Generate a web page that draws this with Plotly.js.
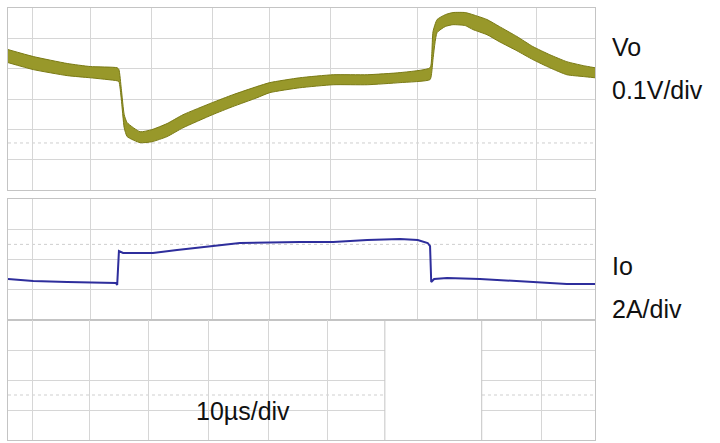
<!DOCTYPE html>
<html>
<head>
<meta charset="utf-8">
<script src="https://cdn.plot.ly/plotly-3.0.1.min.js"></script>
<style>html,body{margin:0;padding:0;background:#fff;}#chart{width:720px;height:443px;}</style>
</head>
<body>
<div id="chart"></div>
<script>
// ---- Vo (mV, relative to steady state), envelope of the ripple band ----
var voTime  = [0, 4.3, 10.1, 14.0, 18.6, 18.9, 19.3, 19.8, 20.3, 22.5, 24.5, 27.1, 29.8, 34.8, 38.3, 42.4, 44.6, 49.7, 55.4, 61.2, 66.8, 71.9, 72.2, 72.4, 73.1, 74.5, 75.8, 77.9, 79.2, 81.6, 83.7, 86.7, 89.4, 92.3, 95.2, 98.0, 100];
var voUpper = [63, 40, 17, 7, 3, -3, -66, -152, -178, -208, -201, -181, -152, -112, -86, -59, -46, -30, -20, -20, -13, 3, 50, 122, 162, 178, 185, 185, 178, 162, 139, 106, 73, 46, 23, 10, 3];
var voLower = [20, -3, -23, -30, -40, -43, -100, -195, -224, -244, -241, -224, -195, -152, -125, -96, -79, -63, -53, -53, -46, -36, -10, 30, 119, 139, 145, 142, 129, 112, 89, 59, 30, 3, -20, -26, -30];

// ---- Io (A) ----
var ioTime = [0, 4.3, 10.1, 18.4, 18.6, 18.9, 19.6, 24.7, 28.8, 34.8, 39.5, 49.7, 55.4, 61.2, 66.8, 69.8, 71.5, 71.9, 72.1, 72.6, 74.8, 80.4, 90.1, 95.2, 100];
var ioAmps = [2.71, 2.58, 2.51, 2.45, 2.31, 4.56, 4.43, 4.43, 4.63, 4.89, 5.09, 5.16, 5.16, 5.29, 5.36, 5.29, 5.09, 4.89, 2.51, 2.71, 2.78, 2.71, 2.51, 2.38, 2.38];

// ---- grid positions (µs) as seen on the stitched screenshot ----
var gridUpper = [4.1, 14.0, 24.5, 34.8, 44.6, 54.9, 69.8, 79.9, 90.1];
var gridLower = [4.1, 13.8, 24.0, 34.1, 44.3, 54.5, 90.8];
var voGrid = [-300, -200, -100, 0, 100];
var ioGrid = [2, 4, 6];
var blkGrid = [1, 2, 3];

var GRID = '#d6d6d6', BORDER = '#c4c4c4';
var PXW = 720, PXH = 443;
function px2x(p){ return p / PXW; }
function px2y(p){ return (PXH - p) / PXH; }

var xDom = [px2x(8), px2x(595)];

var traces = [
  {x: voTime, y: voLower, xaxis: 'x', yaxis: 'y', mode: 'lines',
   line: {color: '#7a7a14', width: 1, shape: 'spline', smoothing: 0.5}, hoverinfo: 'skip', showlegend: false},
  {x: voTime, y: voUpper, xaxis: 'x', yaxis: 'y', mode: 'lines', fill: 'tonexty',
   fillcolor: '#98982a', line: {color: '#7a7a14', width: 1, shape: 'spline', smoothing: 0.5}, hoverinfo: 'skip', showlegend: false},
  {x: ioTime, y: ioAmps, xaxis: 'x2', yaxis: 'y2', mode: 'lines',
   line: {color: '#2e2e9c', width: 2}, hoverinfo: 'skip', showlegend: false},
  {x: [0, 100], y: [null, null], xaxis: 'x3', yaxis: 'y3', mode: 'lines', hoverinfo: 'skip', showlegend: false}
];

function xa(vals, anchor){
  return {domain: xDom, range: [0, 100], anchor: anchor, tickmode: 'array', tickvals: vals,
    showticklabels: false, ticks: '', showgrid: true, gridcolor: GRID, gridwidth: 1,
    zeroline: false, showline: true, mirror: true, linecolor: BORDER, linewidth: 1, fixedrange: true};
}
function ya(dom, rng, vals, anchor){
  return {domain: dom, range: rng, anchor: anchor, tickmode: 'array', tickvals: vals,
    showticklabels: false, ticks: '', showgrid: true, gridcolor: GRID, gridwidth: 1,
    zeroline: false, showline: true, mirror: true, linecolor: BORDER, linewidth: 1, fixedrange: true};
}

var txtFont = {family: 'Liberation Sans, Arial, sans-serif', size: 25, color: '#111'};
function ann(text, xp, yp){
  return {text: text, xref: 'paper', yref: 'paper', x: px2x(xp), y: px2y(yp),
    xanchor: 'left', yanchor: 'middle', showarrow: false, font: txtFont};
}

var layout = {
  width: PXW, height: PXH,
  margin: {l: 0, r: 0, t: 0, b: 0},
  paper_bgcolor: '#fff', plot_bgcolor: '#fff',
  showlegend: false,
  xaxis: xa(gridUpper, 'y'),
  yaxis: ya([px2y(190), px2y(8)], [-400, 200], voGrid, 'x'),
  xaxis2: xa(gridUpper, 'y2'),
  yaxis2: ya([px2y(320), px2y(199)], [0, 8], ioGrid, 'x2'),
  xaxis3: xa(gridLower, 'y3'),
  yaxis3: ya([px2y(440), px2y(320)], [0, 4], blkGrid, 'x3'),
  shapes: [
    {type: 'line', xref: 'x', yref: 'y', x0: 0, x1: 100, y0: -245, y1: -245,
     line: {color: '#cfcfcf', width: 1, dash: 'dot'}, layer: 'below'},
    {type: 'line', xref: 'x2', yref: 'y2', x0: 0, x1: 100, y0: 5.0, y1: 5.0,
     line: {color: '#cfcfcf', width: 1, dash: 'dot'}, layer: 'below'},
    {type: 'line', xref: 'x3', yref: 'y3', x0: 0, x1: 100, y0: 1.5, y1: 1.5,
     line: {color: '#cfcfcf', width: 1, dash: 'dot'}, layer: 'below'},
    {type: 'rect', xref: 'x3', yref: 'y3', x0: 64.2, x1: 80.7, y0: -0.1, y1: 3.96,
     fillcolor: '#fff', line: {width: 0}, layer: 'above'},
    {type: 'line', xref: 'x3', yref: 'y3', x0: 64.2, x1: 64.2, y0: 0, y1: 4,
     line: {color: BORDER, width: 1}, layer: 'above'},
    {type: 'line', xref: 'x3', yref: 'y3', x0: 80.7, x1: 80.7, y0: 0, y1: 4,
     line: {color: BORDER, width: 1}, layer: 'above'}
  ],
  annotations: [
    ann('Vo', 610, 47),
    ann('0.1V/div', 610, 90),
    ann('Io', 610, 266),
    ann('2A/div', 610, 309),
    ann('10µs/div', 194, 411)
  ]
};

Plotly.newPlot('chart', traces, layout, {staticPlot: true, displayModeBar: false});
</script>
</body>
</html>
